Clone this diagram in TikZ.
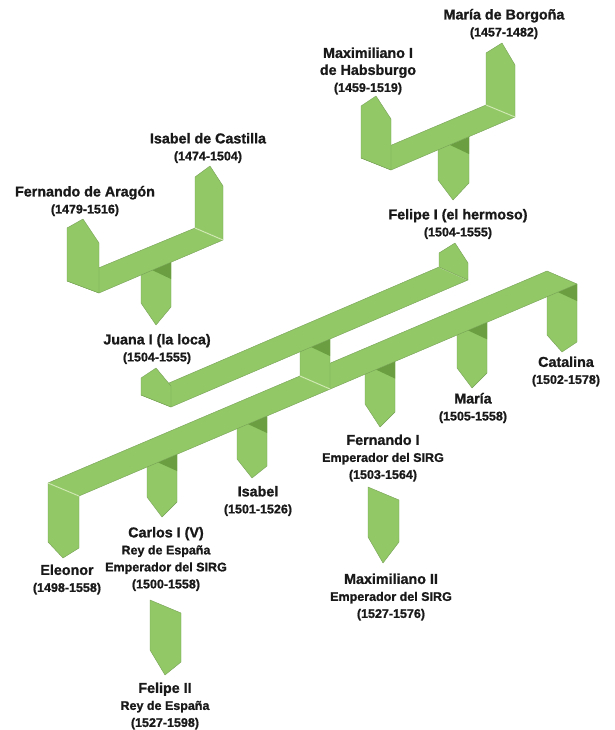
\documentclass[tikz,border=0pt]{standalone}
\usepackage{fontspec}
\setmainfont{Liberation Sans}[BoldFeatures={FakeBold=1.2}]
\definecolor{leaf}{RGB}{146,201,102}
\definecolor{leafdark}{RGB}{106,158,64}
\definecolor{leaflight}{RGB}{208,234,178}
\definecolor{leafedge}{RGB}{118,160,86}
\newcommand{\nm}[1]{{\fontsize{14.3}{17}\selectfont #1}}

\begin{document}
\begin{tikzpicture}[x=1pt,y=-1pt,line width=0.4pt,
    plate/.style={fill=leaf,draw=leafedge,line join=round},
    darkpart/.style={fill=leafdark},
    crease/.style={draw=leaflight,line width=1pt},
    person/.style={align=center,inner sep=0pt,text=black!90,
      font=\bfseries\fontsize{12.5}{17}\selectfont}]
    \useasboundingbox (0,0) rectangle (614,730);

    % Fernando + Isabel -> Juana
    \draw[plate] (141,265) -- (171,252) -- (171,307) -- (156,325) -- (141,303) -- cycle;
    \fill[darkpart] (152,270) -- (171,262) -- (171,279) -- cycle;
    \draw[plate] (195,177) -- (210,166) -- (223,186) -- (223,240) -- (195,228) -- cycle;
    \draw[plate] (67,281) -- (195,228) -- (223,240) -- (99,293) -- cycle;
    \draw[crease] (195,228) -- (223,240);
    \draw[plate] (67,228) -- (83,219) -- (99,243) -- (99,293) -- (67,281) -- cycle;

    % Maximiliano + Maria -> Felipe
    \draw[plate] (438,140) -- (469,127) -- (469,183) -- (453,200) -- (438,180) -- cycle;
    \fill[darkpart] (450,145) -- (469,137) -- (469,154) -- cycle;
    \draw[plate] (486,53) -- (502,43) -- (515,65) -- (515,117) -- (486,105) -- cycle;
    \draw[plate] (361,158) -- (486,105) -- (515,117) -- (391,170) -- cycle;
    \draw[crease] (486,105) -- (515,117);
    \draw[plate] (361,106) -- (376,96) -- (391,119) -- (391,170) -- (361,158) -- cycle;

    % children
    \draw[plate] (147,460) -- (177,447) -- (177,502) -- (162,517) -- (147,497) -- cycle;
    \fill[darkpart] (158,462.4) -- (177,454.3) -- (177,471) -- cycle;
    \draw[plate] (237,420) -- (267,408) -- (267,466) -- (252,478) -- (237,459) -- cycle;
    \fill[darkpart] (248,424.1) -- (267,416) -- (267,433) -- cycle;
    \draw[plate] (365,366) -- (395,353) -- (395,412) -- (380,427) -- (365,404) -- cycle;
    \fill[darkpart] (376,369.6) -- (395,361.5) -- (395,378.5) -- cycle;
    \draw[plate] (457,327) -- (487,314) -- (487,373) -- (472,388) -- (457,368) -- cycle;
    \fill[darkpart] (468,330.4) -- (487,322.3) -- (487,339.3) -- cycle;
    \draw[plate] (547,290) -- (577,284) -- (577,342) -- (562,352) -- (547,335) -- cycle;
    \fill[darkpart] (558,292.1) -- (577,284) -- (577,301) -- cycle;
    \draw[plate] (48,483) -- (547,271) -- (577,284) -- (79,496) -- cycle;
    \draw[plate] (48,483) -- (79,496) -- (79,548) -- (63,558) -- (48,542) -- cycle;
    \draw[crease] (48,483) -- (79,496);
    \draw[plate] (300,335) -- (330,322) -- (330,389) -- (300,376) -- cycle;
    \draw[crease] (300,376) -- (330,389);
    \fill[darkpart] (311,347) -- (330,339) -- (330,356) -- cycle;

    % Juana + Felipe
    \draw[plate] (141,395) -- (439,267) -- (468,280) -- (171,407) -- cycle;
    \draw[crease] (439,267) -- (468,280);
    \draw[plate] (141,378) -- (156,368) -- (171,386) -- (171,407) -- (141,395) -- cycle;
    \draw[plate] (439,253) -- (455,243) -- (468,263) -- (468,280) -- (439,267) -- cycle;

    % grandchildren
    \draw[plate] (368,487) -- (399,500) -- (399,542) -- (383,563) -- (368,537) -- cycle;
    \draw[plate] (150,600) -- (181,613) -- (181,662) -- (165,675) -- (150,650) -- cycle;

    \node[person] (mariaB)    at (504,24)    {\nm{María de Borgoña}\\(1457-1482)};
    \node[person] (maxI)      at (368,71)    {\nm{Maximiliano I}\\\nm{de Habsburgo}\\(1459-1519)};
    \node[person] (isabelC)   at (208,148)   {\nm{Isabel de Castilla}\\(1474-1504)};
    \node[person] (fernandoA) at (85,201)    {\nm{Fernando de Aragón}\\(1479-1516)};
    \node[person] (felipeI)   at (458,224)   {\nm{Felipe I (el hermoso)}\\(1504-1555)};
    \node[person] (juana)     at (157,349)   {\nm{Juana I (la loca)}\\(1504-1555)};
    \node[person] (catalina)  at (566,371.5) {\nm{Catalina}\\(1502-1578)};
    \node[person] (maria)     at (473,408)   {\nm{María}\\(1505-1558)};
    \node[person] (fernandoI) at (383,458)   {\nm{Fernando I}\\Emperador del SIRG\\(1503-1564)};
    \node[person] (isabel)    at (258,501)   {\nm{Isabel}\\(1501-1526)};
    \node[person] (carlos)    at (166,559)   {\nm{Carlos I (V)}\\Rey de España\\Emperador del SIRG\\(1500-1558)};
    \node[person] (eleonor)   at (67,579.5)  {\nm{Eleonor}\\(1498-1558)};
    \node[person] (maxII)     at (391,597)   {\nm{Maximiliano II}\\Emperador del SIRG\\(1527-1576)};
    \node[person] (felipeII)  at (165,706)   {\nm{Felipe II}\\Rey de España\\(1527-1598)};
\end{tikzpicture}
\end{document}
